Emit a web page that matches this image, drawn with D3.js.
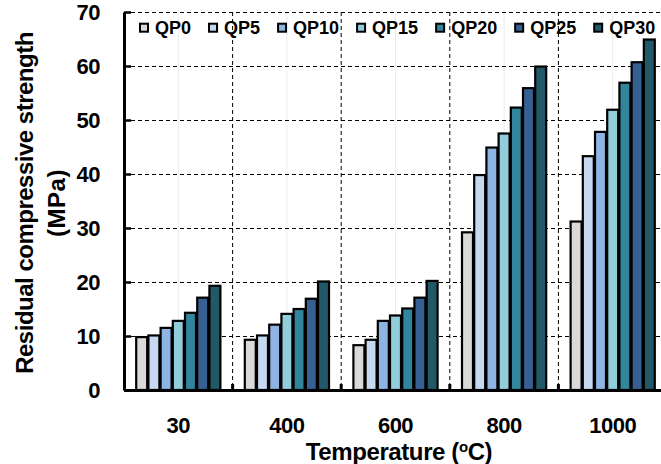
<!DOCTYPE html>
<html>
<head>
<meta charset="utf-8">
<script src="https://cdn.jsdelivr.net/npm/d3@7"></script>
<style>
  html, body { margin: 0; padding: 0; background: #fff; }
  svg { display: block; font-family: "Liberation Sans", Arial, sans-serif; font-weight: bold; }
</style>
</head>
<body>
<svg id="chart" width="661" height="464"></svg>
<script>
// Exposure temperatures (°C) shown as groups
const temperatures = ["30", "400", "600", "800", "1000"];
// Mix series
const mixes = ["QP0", "QP5", "QP10", "QP15", "QP20", "QP25", "QP30"];
// Residual compressive strength (MPa), one array per mix, in temperature order
const qp0  = [9.8, 9.3, 8.3, 29.2, 31.2];
const qp5  = [10.1, 10.1, 9.3, 39.8, 43.3];
const qp10 = [11.5, 12.1, 12.8, 44.9, 47.8];
const qp15 = [12.8, 14.1, 13.8, 47.5, 51.9];
const qp20 = [14.3, 15.0, 15.1, 52.3, 56.9];
const qp25 = [17.1, 16.9, 17.1, 55.9, 60.7];
const qp30 = [19.3, 20.1, 20.2, 59.9, 64.9];
const yTicks = [0, 10, 20, 30, 40, 50, 60, 70];
const colors = ["#d9d9d9", "#c6d9f1", "#8db4e2", "#92cddc", "#31859c", "#366092", "#215968"];

const seriesValues = [qp0, qp5, qp10, qp15, qp20, qp25, qp30];

const svg = d3.select("#chart");
const plotLeft = 124, plotRight = 667, plotTop = 12, plotBottom = 390;
const fontFamily = "Liberation Sans, Arial, sans-serif";

const y = d3.scaleLinear().domain([0, 70]).range([plotBottom, plotTop]);
const x0 = d3.scaleBand().domain(temperatures).range([plotLeft, plotRight]).padding(0);
const x1 = d3.scaleBand().domain(mixes).range([0, x0.bandwidth()])
  .paddingInner(0.1).paddingOuter(1.0);
const color = d3.scaleOrdinal().domain(mixes).range(colors);

// faint centre lines inside each group
svg.append("g").selectAll("line").data(temperatures).join("line")
  .attr("x1", d => x0(d) + x0.bandwidth() / 2).attr("x2", d => x0(d) + x0.bandwidth() / 2)
  .attr("y1", plotTop).attr("y2", plotBottom)
  .attr("stroke", "#ebebeb").attr("stroke-width", 1);

// dashed horizontal grid
svg.append("g").selectAll("line").data(yTicks.filter(d => d > 0)).join("line")
  .attr("x1", plotLeft).attr("x2", plotRight)
  .attr("y1", d => Math.round(y(d)) + 0.5).attr("y2", d => Math.round(y(d)) + 0.5)
  .attr("stroke", "#000").attr("stroke-width", 1).attr("stroke-dasharray", "4,3");

// dashed vertical separators between groups
svg.append("g").selectAll("line").data(temperatures.slice(1).concat(["end"])).join("line")
  .attr("x1", d => d === "end" ? plotRight : x0(d)).attr("x2", d => d === "end" ? plotRight : x0(d))
  .attr("y1", plotTop).attr("y2", plotBottom)
  .attr("stroke", "#000").attr("stroke-width", 1).attr("stroke-dasharray", "4,3");

// bars
const rows = temperatures.map((t, i) => ({ t, vals: mixes.map((m, j) => ({ m, v: seriesValues[j][i] })) }));
svg.append("g").selectAll("g").data(rows).join("g")
  .attr("transform", d => `translate(${x0(d.t)},0)`)
  .selectAll("rect").data(d => d.vals).join("rect")
  .attr("x", d => x1(d.m))
  .attr("width", x1.bandwidth())
  .attr("y", d => y(d.v))
  .attr("height", d => y(0) - y(d.v))
  .attr("fill", d => color(d.m))
  .attr("stroke", "#000").attr("stroke-width", 2.2);

// axes
const yAxis = svg.append("g").attr("transform", `translate(${plotLeft},0)`)
  .call(d3.axisLeft(y).tickValues(yTicks).tickSizeInner(-7).tickSizeOuter(0).tickPadding(24));
yAxis.select(".domain").attr("stroke-width", 3);
yAxis.selectAll(".tick line").attr("stroke-width", 2.5);
yAxis.selectAll(".tick text").attr("font-size", 22).attr("font-weight", "bold")
  .attr("font-family", fontFamily).attr("fill", "#000").attr("letter-spacing", -0.5);

const xAxis = svg.append("g").attr("transform", `translate(0,${plotBottom})`)
  .call(d3.axisBottom(x0).tickSize(0).tickPadding(27));
xAxis.select(".domain").attr("stroke-width", 3);
xAxis.selectAll(".tick text").attr("font-size", 22).attr("font-weight", "bold")
  .attr("font-family", fontFamily).attr("fill", "#000").attr("letter-spacing", -0.5);

// inward tick marks at group boundaries
svg.append("g").selectAll("line").data(temperatures.slice(1)).join("line")
  .attr("x1", d => x0(d)).attr("x2", d => x0(d))
  .attr("y1", plotBottom).attr("y2", plotBottom - 6)
  .attr("stroke", "#000").attr("stroke-width", 3);

// axis titles
const yTitle = svg.append("text")
  .attr("transform", "translate(33,203) rotate(-90)")
  .attr("text-anchor", "middle").attr("font-size", 24);
yTitle.append("tspan").attr("x", 0).attr("y", 0).attr("letter-spacing", -0.5)
  .text("Residual compressive strength");
yTitle.append("tspan").attr("x", 0).attr("y", 32).attr("letter-spacing", 0.5).text("(MPa)");

const xTitle = svg.append("text")
  .attr("x", 399).attr("y", 460).attr("text-anchor", "middle")
  .attr("font-size", 24).attr("letter-spacing", -0.4);
xTitle.append("tspan").text("Temperature (");
xTitle.append("tspan").attr("font-size", 15).attr("dy", -8).text("o");
xTitle.append("tspan").attr("dy", 8).text("C)");

// legend
const legend = svg.append("g").attr("transform", "translate(140,0)");
let lx = 0;
mixes.forEach(m => {
  const g = legend.append("g").attr("transform", `translate(${lx},0)`);
  g.append("rect").attr("x", 0).attr("y", 23.7).attr("width", 8).attr("height", 8)
    .attr("fill", color(m)).attr("stroke", "#000").attr("stroke-width", 2);
  const t = g.append("text").attr("x", 15).attr("y", 33.5).attr("font-size", 18).text(m);
  lx += 15 + t.node().getComputedTextLength() + 18;
});
</script>
</body>
</html>
